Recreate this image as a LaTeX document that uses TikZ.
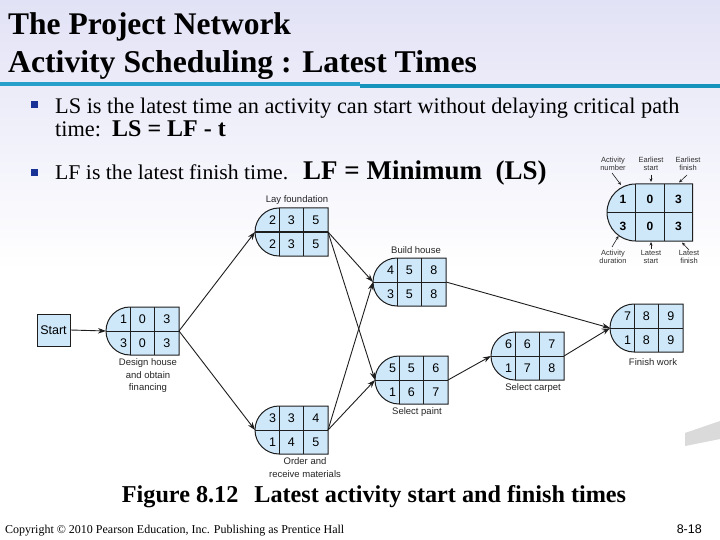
\documentclass[tikz,border=0pt]{standalone}
\usepackage{fontspec}
\usepackage{graphicx}
\setmainfont{Liberation Serif}
\setsansfont{Liberation Sans}
\usetikzlibrary{arrows.meta}
\definecolor{bgtop}{RGB}{226,226,246}
\definecolor{tealA}{RGB}{40,160,204}
\definecolor{tealB}{RGB}{22,148,190}
\definecolor{cellblue}{RGB}{206,232,250}
\definecolor{bulletblue}{RGB}{24,50,150}
\definecolor{edgecol}{RGB}{30,30,30}
\definecolor{swoosh}{RGB}{218,218,218}
\tikzset{
  actshape/.style={fill=cellblue, draw=edgecol, line width=1pt},
  actline/.style={draw=edgecol, line width=1pt},
  num/.style={font=\sffamily\fontsize{12.5}{14}\selectfont, inner sep=0pt},
  lnum/.style={font=\sffamily\bfseries\fontsize{12}{14}\selectfont, inner sep=0pt},
  actlabel/.style={font=\sffamily\fontsize{9.5}{12.5}\selectfont, inner sep=0pt, align=center, text=black!85},
  leglabel/.style={font=\sffamily\fontsize{7.5}{8.5}\selectfont, inner sep=0pt, align=center, text=black!80},
  conn/.style={draw=edgecol, line width=0.9pt, -{Stealth[length=8pt,width=5.5pt]}},
  legarrow/.style={draw=edgecol, line width=0.6pt, -{Stealth[length=3.5pt,width=3pt]}},
  bulletsq/.style={fill=bulletblue, draw=none},
}
% name, x, y, n, es, ef, t, ls, lf
\newcommand{\actbox}[9]{%
  \node[anchor=north west, minimum width=73pt, minimum height=48pt, inner sep=0pt, outer sep=0pt] (#1) at (#2,#3) {};
  \path[actshape] (#2+24,#3) arc[start angle=90, end angle=270, radius=24pt] -- (#2+73,#3+48) -- (#2+73,#3) -- cycle;
  \draw[actline] (#2,#3+24) -- (#2+73,#3+24);
  \draw[actline] (#2+24,#3) -- (#2+24,#3+48);
  \draw[actline] (#2+48.5,#3) -- (#2+48.5,#3+48);
  \node[num] at (#2+17.5,#3+12) {#4};
  \node[num] at (#2+36.25,#3+12) {#5};
  \node[num] at (#2+60.75,#3+12) {#6};
  \node[num] at (#2+17.5,#3+36) {#7};
  \node[num] at (#2+36.25,#3+36) {#8};
  \node[num] at (#2+60.75,#3+36) {#9};
}
\begin{document}
\begin{tikzpicture}[x=1pt,y=-1pt]
\useasboundingbox (0,0) rectangle (720,540);
% background
\fill[top color=bgtop, bottom color=white] (0,0) rectangle (720,270);
\fill[white] (0,270) rectangle (720,540);
\fill[swoosh] (685,433) -- (720,421) -- (720,439) -- (685,446) -- cycle;
% title
\node[anchor=base west, inner sep=0pt, font=\bfseries\fontsize{31.5}{36}\selectfont] (title1) at (8,35) {The Project Network};
\node[anchor=base west, inner sep=0pt, font=\bfseries\fontsize{31.7}{36}\selectfont] (title2) at (8,73) {Activity Scheduling : Latest Times};
\fill[tealA] (0,82.5) rectangle (360,86.5);
\fill[tealB] (360,84) rectangle (720,88);
% bullets
\fill[bulletsq] (31,101) rectangle (38,108);
\node[anchor=base west, inner sep=0pt, font=\fontsize{22.3}{24}\selectfont] (b1a) at (55,114) {LS is the latest time an activity can start without delaying critical path};
\node[anchor=base west, inner sep=0pt, font=\fontsize{22.3}{24}\selectfont] (b1b) at (55,137) {time:\ \ {\bfseries\fontsize{24}{26}\selectfont LS = LF - t}};
\fill[bulletsq] (31,169) rectangle (38,176);
\node[anchor=base west, inner sep=0pt, font=\fontsize{21}{24}\selectfont] (b2a) at (55,180) {\resizebox{233pt}{\height}{LF is the latest finish time.}};
\node[anchor=base west, inner sep=0pt, font=\bfseries\fontsize{27}{30}\selectfont] (b2b) at (303,180) {LF = Minimum\ \ (LS)};
% legend
\path[actshape] (635.5,184) arc[start angle=90, end angle=270, radius=28.5pt] -- (692.5,241) -- (692.5,184) -- cycle;
\draw[actline] (607,212.5) -- (692.5,212.5);
\draw[actline] (635.5,184) -- (635.5,241);
\draw[actline] (664,184) -- (664,241);
\node[lnum] (lg1) at (623,199) {1};
\node[lnum] (lg2) at (650,199) {0};
\node[lnum] (lg3) at (678.5,199) {3};
\node[lnum] (lg4) at (623,226) {3};
\node[lnum] (lg5) at (650,226) {0};
\node[lnum] (lg6) at (678.5,226) {3};
\node[leglabel] (lan) at (613,164) {Activity\\number};
\node[leglabel] (les) at (651,164) {Earliest\\start};
\node[leglabel] (lef) at (688,164) {Earliest\\finish};
\node[leglabel] (lad) at (613,257) {Activity\\duration};
\node[leglabel] (lls) at (651,257) {Latest\\start};
\node[leglabel] (llf) at (689,257) {Latest\\finish};
\coordinate (tan) at (612,173); \coordinate (han) at (621,185);
\coordinate (tes) at (651,175); \coordinate (hes) at (651,182);
\coordinate (tef) at (687,175); \coordinate (hef) at (679,182.5);
\coordinate (tad) at (612,247); \coordinate (had) at (618.5,236);
\coordinate (tls) at (651,249); \coordinate (hls) at (651,242);
\coordinate (tlf) at (689,250); \coordinate (hlf) at (682,242.5);
\draw[legarrow] (tan) -- (han);
\draw[legarrow] (tes) -- (hes);
\draw[legarrow] (tef) -- (hef);
\draw[legarrow] (tad) -- (had);
\draw[legarrow] (tls) -- (hls);
\draw[legarrow] (tlf) -- (hlf);
% network
\node[draw=edgecol, fill=cellblue, line width=1pt, minimum width=33pt, minimum height=32pt, inner sep=0pt, font=\sffamily\fontsize{12.5}{14}\selectfont] (start) at (53.5,330) {Start};
\actbox{design}{106}{307}{1}{0}{3}{3}{0}{3}
\actbox{lay}{255}{208}{2}{3}{5}{2}{3}{5}
\actbox{order}{255}{406}{3}{3}{4}{1}{4}{5}
\actbox{build}{373}{258}{4}{5}{8}{3}{5}{8}
\actbox{paint}{375}{356}{5}{5}{6}{1}{6}{7}
\actbox{carpet}{491}{332}{6}{6}{7}{1}{7}{8}
\actbox{finish}{610}{304}{7}{8}{9}{1}{8}{9}
\node[actlabel] (tdesign) at (148,376) {Design house\\and obtain\\financing};
\node[actlabel] (tlay) at (297,200) {Lay foundation};
\node[actlabel] (torder) at (305,467.5) {Order and\\receive materials};
\node[actlabel] (tbuild) at (416,250) {Build house};
\node[actlabel] (tpaint) at (417,412) {Select paint};
\node[actlabel] (tcarpet) at (533,388) {Select carpet};
\node[actlabel] (tfinish) at (653,362) {Finish work};
\draw[conn] (start.east) -- (design.west);
\draw[conn] (design.east) -- (lay.west);
\draw[conn] (design.east) -- (order.west);
\draw[conn] (lay.east) -- (build.west);
\draw[conn] (lay.east) -- (paint.west);
\draw[conn] (order.east) -- (build.west);
\draw[conn] (order.east) -- (paint.west);
\draw[conn] (build.east) -- (finish.west);
\draw[conn] (paint.east) -- (carpet.west);
\draw[conn] (carpet.east) -- (finish.west);
% caption and footer
\node[anchor=base, inner sep=0pt, font=\bfseries\fontsize{24.2}{26}\selectfont] (caption) at (374,502) {Figure 8.12\hspace{16pt}Latest activity start and finish times};
\node[anchor=base west, inner sep=0pt, font=\fontsize{12}{14}\selectfont] (copy) at (5,533) {Copyright © 2010 Pearson Education, Inc. Publishing as Prentice Hall};
\node[anchor=base east, inner sep=0pt, font=\sffamily\fontsize{12.5}{14}\selectfont] (pagenum) at (702,533) {8-18};
\end{tikzpicture}
\end{document}
